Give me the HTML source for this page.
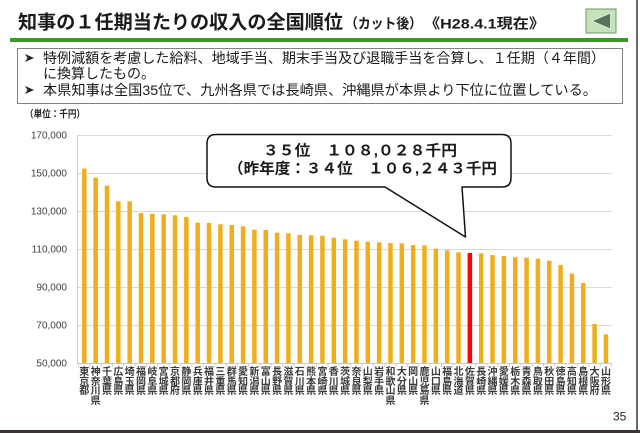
<!DOCTYPE html>
<html><head><meta charset="utf-8">
<style>
html,body{margin:0;padding:0;background:#fff;}
#w{position:relative;width:640px;height:433px;overflow:hidden;background:#fff;font-family:"Liberation Sans","Noto Sans CJK JP",sans-serif;}
svg{position:absolute;left:0;top:0;}
.xl{position:absolute;top:368px;width:12px;font-size:10px;line-height:9.6px;text-align:center;color:#3a3a3a;font-weight:bold;font-family:"Liberation Sans","Noto Sans CJK JP",sans-serif;}
</style></head>
<body><div id="w">
<svg width="640" height="433" viewBox="0 0 640 433" font-family="'Liberation Sans','Noto Sans CJK JP',sans-serif">
<!-- title -->
<text x="18" y="28.5" font-size="19" font-weight="bold" fill="#1a1a1a" textLength="325" lengthAdjust="spacingAndGlyphs">知事の１任期当たりの収入の全国順位</text>
<text x="345" y="28.5" font-size="14" font-weight="bold" fill="#1a1a1a" textLength="77" lengthAdjust="spacingAndGlyphs">（カット後）</text>
<text x="424" y="28.5" font-size="14" font-weight="bold" fill="#1a1a1a" textLength="121" lengthAdjust="spacingAndGlyphs">《H28.4.1現在》</text>
<rect x="586" y="9" width="30" height="24" fill="#c5e2bd" stroke="#6a9a60" stroke-width="1"/>
<polygon points="592,21 610.5,13 610.5,29" fill="#56745a" stroke="#e8f4e4" stroke-width="0.8"/>
<rect x="10" y="38" width="618" height="4" fill="#3a9a28"/>
<!-- bullet box -->
<rect x="17.5" y="48.5" width="605" height="55" fill="#fff" stroke="#808080" stroke-width="1"/>
<path d="M25,54 L34,58 L25,62 L27.5,58 Z" fill="#222"/>
<path d="M25,86 L34,90 L25,94 L27.5,90 Z" fill="#222"/>
<text x="43" y="63" font-size="14" fill="#1a1a1a" textLength="562" lengthAdjust="spacingAndGlyphs">特例減額を考慮した給料、地域手当、期末手当及び退職手当を合算し、１任期（４年間）</text>
<text x="43" y="78.5" font-size="14" fill="#1a1a1a" textLength="112" lengthAdjust="spacingAndGlyphs">に換算したもの。</text>
<text x="43" y="95" font-size="14" fill="#1a1a1a" textLength="554" lengthAdjust="spacingAndGlyphs">本県知事は全国35位で、九州各県では長崎県、沖縄県が本県より下位に位置している。</text>
<text x="25" y="117.5" font-size="10" font-weight="bold" fill="#222" textLength="60" lengthAdjust="spacingAndGlyphs">（単位：千円）</text>
<!-- grid -->
<g stroke="#d9d9d9" stroke-width="1">
<line x1="78" y1="135.5" x2="612" y2="135.5"/>
<line x1="78" y1="173.5" x2="612" y2="173.5"/>
<line x1="78" y1="211.5" x2="612" y2="211.5"/>
<line x1="78" y1="249.5" x2="612" y2="249.5"/>
<line x1="78" y1="287.5" x2="612" y2="287.5"/>
<line x1="78" y1="325.5" x2="612" y2="325.5"/>
</g>
<line x1="78" y1="363.5" x2="612" y2="363.5" stroke="#c8c8c8" stroke-width="1"/>
<line x1="77.5" y1="135" x2="77.5" y2="364" stroke="#d0d0d0" stroke-width="1"/>
<line x1="78" y1="365.5" x2="614" y2="365.5" stroke="#d0d0d0" stroke-width="3" stroke-dasharray="1 10.34"/>
<g font-size="10" fill="#404040" text-anchor="end">
<text x="67" y="138.5">170,000</text>
<text x="67" y="176.5">150,000</text>
<text x="67" y="214.5">130,000</text>
<text x="67" y="252.5">110,000</text>
<text x="67" y="290.5">90,000</text>
<text x="67" y="328.5">70,000</text>
<text x="67" y="366.5">50,000</text>
</g>
<!-- bars -->
<g fill="#f0ae1e">
<rect x="82.05" y="168.7" width="4.5" height="194.3"/>
<rect x="93.39" y="177.7" width="4.5" height="185.3"/>
<rect x="104.73" y="185.7" width="4.5" height="177.3"/>
<rect x="116.07" y="201.3" width="4.5" height="161.7"/>
<rect x="127.41" y="201.3" width="4.5" height="161.7"/>
<rect x="138.75" y="213.0" width="4.5" height="150.0"/>
<rect x="150.09" y="213.7" width="4.5" height="149.3"/>
<rect x="161.43" y="214.3" width="4.5" height="148.7"/>
<rect x="172.77" y="215.3" width="4.5" height="147.7"/>
<rect x="184.11" y="217.0" width="4.5" height="146.0"/>
<rect x="195.45" y="222.7" width="4.5" height="140.3"/>
<rect x="206.79" y="223.0" width="4.5" height="140.0"/>
<rect x="218.13" y="224.3" width="4.5" height="138.7"/>
<rect x="229.47" y="225.0" width="4.5" height="138.0"/>
<rect x="240.81" y="226.3" width="4.5" height="136.7"/>
<rect x="252.15" y="229.7" width="4.5" height="133.3"/>
<rect x="263.49" y="230.0" width="4.5" height="133.0"/>
<rect x="274.83" y="232.7" width="4.5" height="130.3"/>
<rect x="286.17" y="233.3" width="4.5" height="129.7"/>
<rect x="297.51" y="235.0" width="4.5" height="128.0"/>
<rect x="308.85" y="235.3" width="4.5" height="127.7"/>
<rect x="320.19" y="235.7" width="4.5" height="127.3"/>
<rect x="331.53" y="237.7" width="4.5" height="125.3"/>
<rect x="342.87" y="239.3" width="4.5" height="123.7"/>
<rect x="354.21" y="240.7" width="4.5" height="122.3"/>
<rect x="365.55" y="241.7" width="4.5" height="121.3"/>
<rect x="376.89" y="242.3" width="4.5" height="120.7"/>
<rect x="388.23" y="243.0" width="4.5" height="120.0"/>
<rect x="399.57" y="243.3" width="4.5" height="119.7"/>
<rect x="410.91" y="245.0" width="4.5" height="118.0"/>
<rect x="422.25" y="245.3" width="4.5" height="117.7"/>
<rect x="433.59" y="248.7" width="4.5" height="114.3"/>
<rect x="444.93" y="250.3" width="4.5" height="112.7"/>
<rect x="456.27" y="252.3" width="4.5" height="110.7"/>
<rect x="478.95" y="253.3" width="4.5" height="109.7"/>
<rect x="490.29" y="255.0" width="4.5" height="108.0"/>
<rect x="501.63" y="256.0" width="4.5" height="107.0"/>
<rect x="512.97" y="257.3" width="4.5" height="105.7"/>
<rect x="524.31" y="257.7" width="4.5" height="105.3"/>
<rect x="535.65" y="258.7" width="4.5" height="104.3"/>
<rect x="546.99" y="260.7" width="4.5" height="102.3"/>
<rect x="558.33" y="265.0" width="4.5" height="98.0"/>
<rect x="569.67" y="273.7" width="4.5" height="89.3"/>
<rect x="581.01" y="283.0" width="4.5" height="80.0"/>
<rect x="592.35" y="324.0" width="4.5" height="39.0"/>
<rect x="603.69" y="334.3" width="4.5" height="28.7"/>
</g>
<rect x="467.61" y="253.0" width="4.5" height="110.0" fill="#ff0000"/>
<!-- callout -->
<path d="M216,134.5 H502 Q511,134.5 511,143.5 V178 Q511,187 502,187 H462 L465.5,237 L385,187 H216 Q207,187 207,178 V143.5 Q207,134.5 216,134.5 Z" fill="#fff" stroke="#111" stroke-width="1.5" stroke-linejoin="round"/>
<text x="263" y="155.5" font-size="15" font-weight="bold" fill="#1a1a1a" textLength="194" lengthAdjust="spacingAndGlyphs">３５位　１０８,０２８千円</text>
<text x="228" y="173.5" font-size="15" font-weight="bold" fill="#1a1a1a" textLength="269" lengthAdjust="spacingAndGlyphs">（昨年度：３４位　１０６,２４３千円</text>
<!-- page number & frame -->
<text x="613" y="420.5" font-size="12" fill="#222">35</text>
<rect x="0" y="430" width="640" height="3" fill="#3a3330"/>
<rect x="636" y="0" width="2" height="430" fill="#6a6a6a"/>
</svg>
<div class="xl" style="left:78.3px">東<br>京<br>都</div>
<div class="xl" style="left:89.64px">神<br>奈<br>川<br>県</div>
<div class="xl" style="left:100.98px">千<br>葉<br>県</div>
<div class="xl" style="left:112.32px">広<br>島<br>県</div>
<div class="xl" style="left:123.66px">埼<br>玉<br>県</div>
<div class="xl" style="left:135px">福<br>岡<br>県</div>
<div class="xl" style="left:146.34px">岐<br>阜<br>県</div>
<div class="xl" style="left:157.68px">宮<br>城<br>県</div>
<div class="xl" style="left:169.02px">京<br>都<br>府</div>
<div class="xl" style="left:180.36px">静<br>岡<br>県</div>
<div class="xl" style="left:191.7px">兵<br>庫<br>県</div>
<div class="xl" style="left:203.04px">福<br>井<br>県</div>
<div class="xl" style="left:214.38px">三<br>重<br>県</div>
<div class="xl" style="left:225.72px">群<br>馬<br>県</div>
<div class="xl" style="left:237.06px">愛<br>知<br>県</div>
<div class="xl" style="left:248.4px">新<br>潟<br>県</div>
<div class="xl" style="left:259.74px">富<br>山<br>県</div>
<div class="xl" style="left:271.08px">長<br>野<br>県</div>
<div class="xl" style="left:282.42px">滋<br>賀<br>県</div>
<div class="xl" style="left:293.76px">石<br>川<br>県</div>
<div class="xl" style="left:305.1px">熊<br>本<br>県</div>
<div class="xl" style="left:316.44px">宮<br>崎<br>県</div>
<div class="xl" style="left:327.78px">香<br>川<br>県</div>
<div class="xl" style="left:339.12px">茨<br>城<br>県</div>
<div class="xl" style="left:350.46px">奈<br>良<br>県</div>
<div class="xl" style="left:361.8px">山<br>梨<br>県</div>
<div class="xl" style="left:373.14px">岩<br>手<br>県</div>
<div class="xl" style="left:384.48px">和<br>歌<br>山<br>県</div>
<div class="xl" style="left:395.82px">大<br>分<br>県</div>
<div class="xl" style="left:407.16px">岡<br>山<br>県</div>
<div class="xl" style="left:418.5px">鹿<br>児<br>島<br>県</div>
<div class="xl" style="left:429.84px">山<br>口<br>県</div>
<div class="xl" style="left:441.18px">福<br>島<br>県</div>
<div class="xl" style="left:452.52px">北<br>海<br>道</div>
<div class="xl" style="left:463.86px">佐<br>賀<br>県</div>
<div class="xl" style="left:475.2px">長<br>崎<br>県</div>
<div class="xl" style="left:486.54px">沖<br>縄<br>県</div>
<div class="xl" style="left:497.88px">愛<br>媛<br>県</div>
<div class="xl" style="left:509.22px">栃<br>木<br>県</div>
<div class="xl" style="left:520.56px">青<br>森<br>県</div>
<div class="xl" style="left:531.9px">鳥<br>取<br>県</div>
<div class="xl" style="left:543.24px">秋<br>田<br>県</div>
<div class="xl" style="left:554.58px">徳<br>島<br>県</div>
<div class="xl" style="left:565.92px">高<br>知<br>県</div>
<div class="xl" style="left:577.26px">島<br>根<br>県</div>
<div class="xl" style="left:588.6px">大<br>阪<br>府</div>
<div class="xl" style="left:599.94px">山<br>形<br>県</div>
</div></body></html>
